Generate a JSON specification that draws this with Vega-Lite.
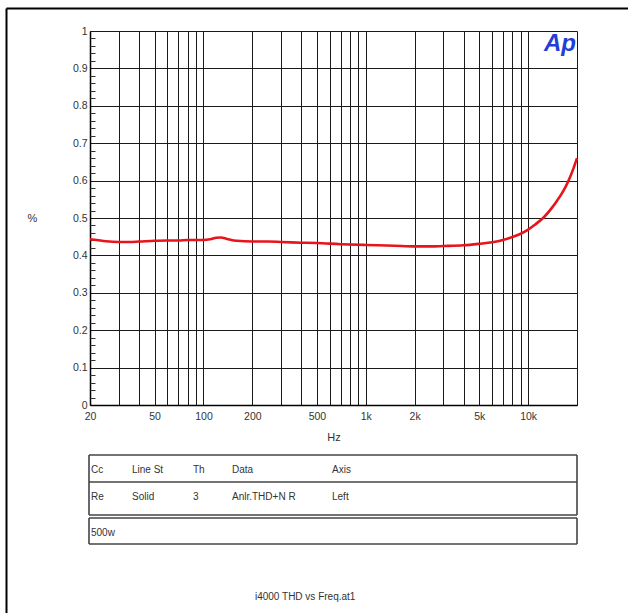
{
  "$schema": "https://vega.github.io/schema/vega-lite/v6.json",
  "width": 487,
  "height": 374,
  "autosize": {"type": "none"},
  "padding": {"left": 90, "top": 31, "right": 51, "bottom": 208},
  "background": "white",
  "config": {"view": {"stroke": null}, "font": "Liberation Sans"},
  "datasets": {
    "thd": [
      {"freq": 20, "value": 0.443},
      {"freq": 22, "value": 0.441},
      {"freq": 25, "value": 0.438},
      {"freq": 30, "value": 0.436},
      {"freq": 35, "value": 0.436},
      {"freq": 40, "value": 0.437},
      {"freq": 50, "value": 0.439},
      {"freq": 60, "value": 0.44},
      {"freq": 70, "value": 0.44},
      {"freq": 80, "value": 0.441},
      {"freq": 100, "value": 0.441},
      {"freq": 110, "value": 0.443},
      {"freq": 120, "value": 0.447},
      {"freq": 128, "value": 0.448},
      {"freq": 140, "value": 0.444},
      {"freq": 160, "value": 0.439},
      {"freq": 200, "value": 0.437},
      {"freq": 250, "value": 0.437},
      {"freq": 300, "value": 0.436},
      {"freq": 400, "value": 0.434},
      {"freq": 500, "value": 0.433},
      {"freq": 700, "value": 0.43},
      {"freq": 1000, "value": 0.428},
      {"freq": 1500, "value": 0.426},
      {"freq": 2000, "value": 0.424},
      {"freq": 2500, "value": 0.424},
      {"freq": 3000, "value": 0.425},
      {"freq": 4000, "value": 0.427},
      {"freq": 5000, "value": 0.431},
      {"freq": 6000, "value": 0.435},
      {"freq": 7000, "value": 0.441},
      {"freq": 8000, "value": 0.449},
      {"freq": 9000, "value": 0.458},
      {"freq": 10000, "value": 0.469},
      {"freq": 11000, "value": 0.482},
      {"freq": 12500, "value": 0.502},
      {"freq": 14000, "value": 0.527},
      {"freq": 15000, "value": 0.545},
      {"freq": 16000, "value": 0.563},
      {"freq": 17000, "value": 0.583},
      {"freq": 18000, "value": 0.606},
      {"freq": 19000, "value": 0.632},
      {"freq": 20000, "value": 0.66}
    ],
    "logo": [{"freq": 15700, "value": 0.946, "label": "Ap"}],
    "tableLines": [
      {"x1": -1, "x2": 5, "y1": 0, "y2": 0},
      {"x1": -1, "x2": 5, "y1": 1, "y2": 1},
      {"x1": -1, "x2": 5, "y1": 2, "y2": 2},
      {"x1": -1, "x2": 5, "y1": 3, "y2": 3},
      {"x1": -1, "x2": 5, "y1": 4, "y2": 4},
      {"x1": -1, "x2": -1, "y1": 0, "y2": 2},
      {"x1": 5, "x2": 5, "y1": 0, "y2": 2},
      {"x1": -1, "x2": -1, "y1": 3, "y2": 4},
      {"x1": 5, "x2": 5, "y1": 3, "y2": 4}
    ],
    "tableText": [
      {"col": 0, "row": 0, "text": "Cc"},
      {"col": 1, "row": 0, "text": "Line St"},
      {"col": 2, "row": 0, "text": "Th"},
      {"col": 3, "row": 0, "text": "Data"},
      {"col": 4, "row": 0, "text": "Axis"},
      {"col": 0, "row": 1, "text": "Re"},
      {"col": 1, "row": 1, "text": "Solid"},
      {"col": 2, "row": 1, "text": "3"},
      {"col": 3, "row": 1, "text": "Anlr.THD+N R"},
      {"col": 4, "row": 1, "text": "Left"},
      {"col": 0, "row": 3, "text": "500w"}
    ],
    "frame": [
      {"x1": 0, "x2": 1, "y1": 0, "y2": 0},
      {"x1": 0, "x2": 0, "y1": 0, "y2": 1}
    ],
    "footer": [
      {"x": 0.479, "y": 0.969, "text": "i4000 THD vs Freq.at1"}
    ]
  },
  "layer": [
    {
      "layer": [
        {
          "data": {"name": "thd"},
          "mark": {"type": "line", "color": "#e8141b", "strokeWidth": 2.6, "interpolate": "monotone"},
          "encoding": {
            "x": {
              "field": "freq", "type": "quantitative", "title": "Hz",
              "scale": {"type": "log", "domain": [20, 20000], "nice": false},
              "axis": {
                "values": [20, 30, 40, 50, 60, 70, 80, 90, 100, 200, 300, 400, 500, 600, 700, 800, 900, 1000, 2000, 3000, 4000, 5000, 6000, 7000, 8000, 9000, 10000, 20000],
                "labelExpr": "datum.value==20?'20':datum.value==50?'50':datum.value==100?'100':datum.value==200?'200':datum.value==500?'500':datum.value==1000?'1k':datum.value==2000?'2k':datum.value==5000?'5k':datum.value==10000?'10k':''",
                "grid": true, "gridColor": "#1a1a1a", "gridWidth": 1, "gridOpacity": 1,
                "ticks": false, "domainColor": "#000", "domainWidth": 1.5,
                "labelFont": "Liberation Sans", "labelFontSize": 10.5, "labelColor": "#333",
                "labelPadding": 6, "labelFlush": false, "labelOverlap": false,
                "titleFont": "Liberation Sans", "titleFontSize": 11, "titleFontWeight": "normal",
                "titleColor": "#333", "titleY": 32, "titleBaseline": "middle"
              }
            },
            "y": {
              "field": "value", "type": "quantitative", "title": "%",
              "scale": {"domain": [0, 1], "nice": false},
              "axis": {
                "values": [0, 0.1, 0.2, 0.3, 0.4, 0.5, 0.6, 0.7, 0.8, 0.9, 1],
                "labelExpr": "'' + datum.value",
                "grid": true, "gridColor": "#1a1a1a", "gridWidth": 1, "gridOpacity": 1,
                "ticks": false, "domainColor": "#000", "domainWidth": 1.5,
                "labelFont": "Liberation Sans", "labelFontSize": 10.5, "labelColor": "#333",
                "labelPadding": 3, "labelOverlap": false,
                "titleFont": "Liberation Sans", "titleFontSize": 11, "titleFontWeight": "normal",
                "titleColor": "#333", "titleAngle": 0, "titleX": -58, "titleY": 187,
                "titleAlign": "center", "titleBaseline": "middle"
              }
            }
          }
        },
        {
          "data": {"name": "logo"},
          "mark": {"type": "text", "fontSize": 24, "fontWeight": "bold", "fontStyle": "italic", "color": "#1f3fd8", "align": "center", "baseline": "alphabetic", "font": "Liberation Sans"},
          "encoding": {
            "x": {"field": "freq", "type": "quantitative", "title": "Hz"},
            "y": {
              "field": "value", "type": "quantitative",
              "axis": {
                "orient": "left",
                "values": [0.02, 0.04, 0.06, 0.08, 0.12, 0.14, 0.16, 0.18, 0.22, 0.24, 0.26, 0.28, 0.32, 0.34, 0.36, 0.38, 0.42, 0.44, 0.46, 0.48, 0.52, 0.54, 0.56, 0.58, 0.62, 0.64, 0.66, 0.68, 0.72, 0.74, 0.76, 0.78, 0.82, 0.84, 0.86, 0.88, 0.92, 0.94, 0.96, 0.98],
                "labels": false, "grid": false, "domain": false, "ticks": true,
                "tickSize": -5, "tickColor": "#333", "tickWidth": 1, "title": null
              }
            },
            "text": {"field": "label"}
          }
        }
      ],
      "resolve": {"axis": {"y": "independent"}}
    },
    {
      "layer": [
        {
          "data": {"name": "tableLines"},
          "mark": {"type": "rule", "color": "#444", "strokeWidth": 1.6},
          "encoding": {
            "x": {"field": "x1", "type": "quantitative", "axis": null, "scale": {"domain": [-1, 0, 1, 2, 3, 4, 5], "range": [-1, 1, 42, 103, 142, 242, 487], "nice": false, "zero": false}},
            "x2": {"field": "x2"},
            "y": {"field": "y1", "type": "quantitative", "axis": null, "scale": {"domain": [0, 1, 2, 3, 4], "range": [424, 451, 484, 487, 513], "nice": false, "zero": false}},
            "y2": {"field": "y2"}
          }
        },
        {
          "data": {"name": "tableText"},
          "mark": {"type": "text", "align": "left", "baseline": "middle", "dy": 15, "fontSize": 10, "color": "#333", "font": "Liberation Sans"},
          "encoding": {
            "x": {"field": "col", "type": "quantitative", "axis": null, "scale": {"domain": [-1, 0, 1, 2, 3, 4, 5], "range": [-1, 1, 42, 103, 142, 242, 487], "nice": false, "zero": false}},
            "y": {"field": "row", "type": "quantitative", "axis": null, "scale": {"domain": [0, 1, 2, 3, 4], "range": [424, 451, 484, 487, 513], "nice": false, "zero": false}},
            "text": {"field": "text"}
          }
        }
      ]
    },
    {
      "layer": [
        {
          "data": {"name": "frame"},
          "mark": {"type": "rule", "color": "#000", "strokeWidth": 2},
          "encoding": {
            "x": {"field": "x1", "type": "quantitative", "axis": null, "scale": {"domain": [0, 1], "range": [-83.5, 540], "nice": false, "zero": false}},
            "x2": {"field": "x2"},
            "y": {"field": "y1", "type": "quantitative", "axis": null, "scale": {"domain": [0, 1], "range": [-22.5, 585], "nice": false, "zero": false}},
            "y2": {"field": "y2"}
          }
        },
        {
          "data": {"name": "footer"},
          "mark": {"type": "text", "align": "center", "baseline": "middle", "fontSize": 10, "color": "#333", "font": "Liberation Sans"},
          "encoding": {
            "x": {"field": "x", "type": "quantitative", "axis": null, "scale": {"domain": [0, 1], "range": [-83.5, 540], "nice": false, "zero": false}},
            "y": {"field": "y", "type": "quantitative", "axis": null, "scale": {"domain": [0, 1], "range": [-22.5, 585], "nice": false, "zero": false}},
            "text": {"field": "text"}
          }
        }
      ]
    }
  ],
  "resolve": {
    "scale": {"x": "independent", "y": "independent"},
    "axis": {"x": "independent", "y": "independent"}
  }
}
